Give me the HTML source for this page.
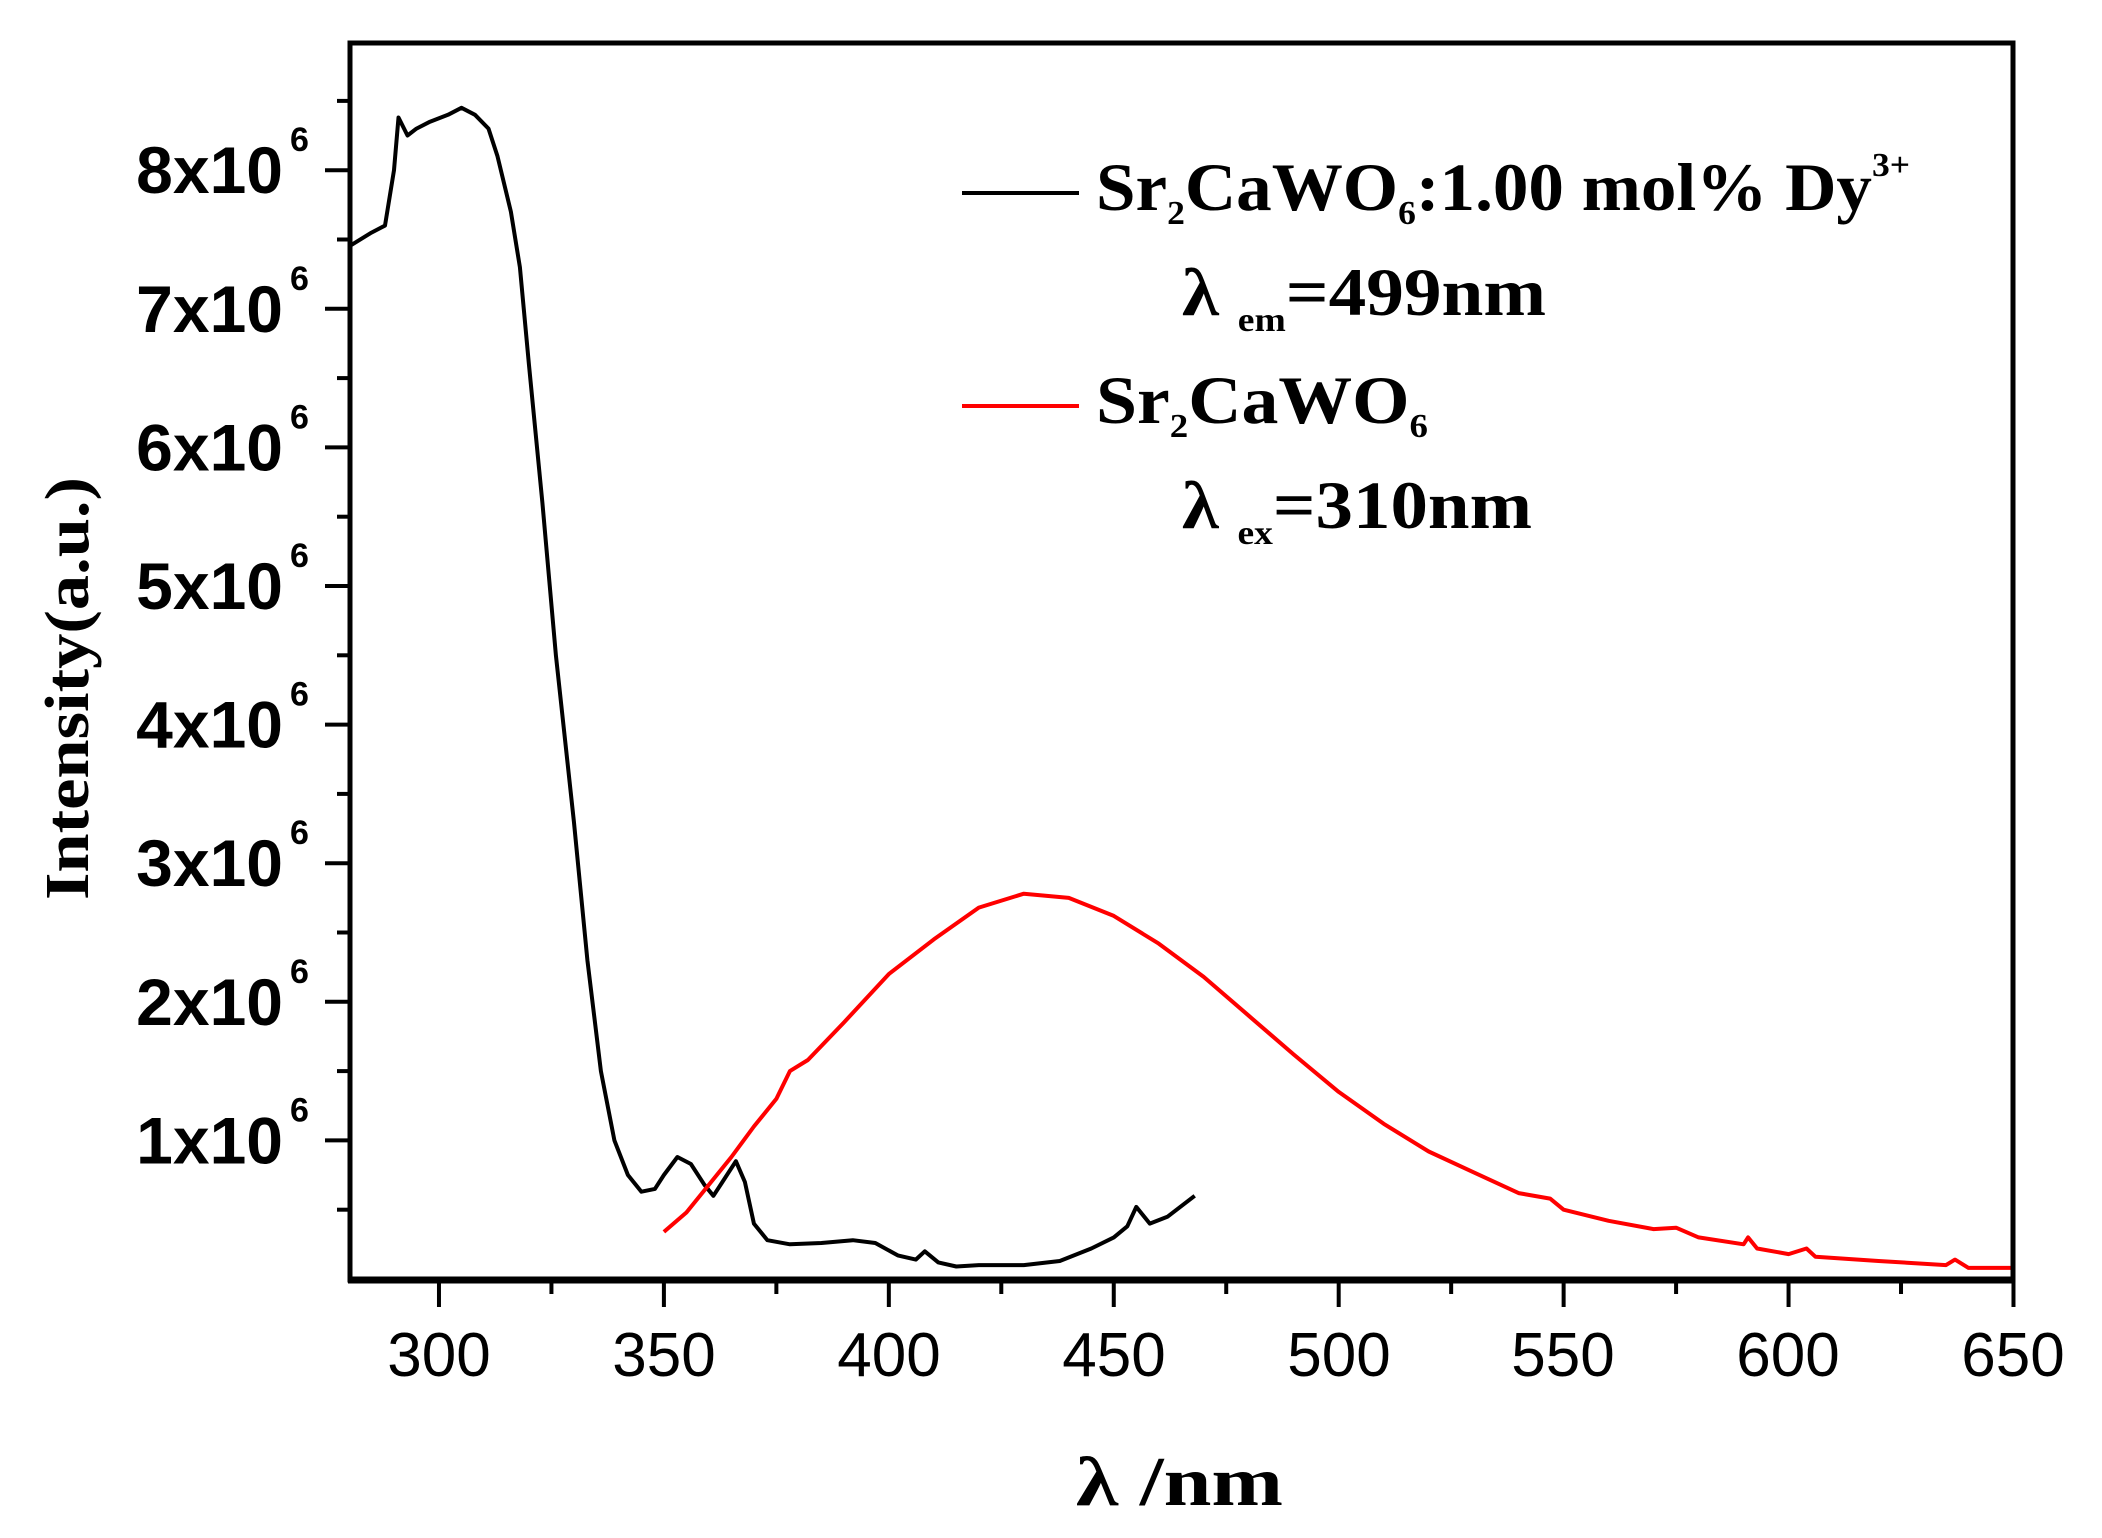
<!DOCTYPE html>
<html><head><meta charset="utf-8"><style>
html,body{margin:0;padding:0;background:#fff;}
svg{display:block;}
</style></head><body>
<svg id="s" width="2102" height="1538" xmlns="http://www.w3.org/2000/svg">
<rect width="2102" height="1538" fill="#fff"/>
<g id="ticks" stroke="#000" stroke-width="4"></g>
<polyline id="blk" fill="none" stroke="#000" stroke-width="4" stroke-linejoin="round"/>
<polyline id="red" fill="none" stroke="#f00" stroke-width="4" stroke-linejoin="round"/>
<rect x="350" y="43" width="1663" height="1237" fill="none" stroke="#000" stroke-width="5"/>
<line x1="348" y1="1280" x2="2015" y2="1280" stroke="#000" stroke-width="7"/>
<g id="ylab" font-family="Liberation Sans, sans-serif" font-weight="bold" fill="#000"></g>
<g font-family="Liberation Sans, sans-serif" font-size="62" fill="#000" text-anchor="middle">
<text x="439" y="1376">300</text><text x="664" y="1376">350</text><text x="889" y="1376">400</text><text x="1114" y="1376">450</text><text x="1339" y="1376">500</text><text x="1563" y="1376">550</text><text x="1788" y="1376">600</text><text x="2013" y="1376">650</text>
</g>
<text x="1076" y="1505" font-family="Liberation Serif, serif" font-weight="bold" font-size="70" textLength="207" lengthAdjust="spacingAndGlyphs">λ /nm</text>
<text transform="translate(88,900) rotate(-90)" font-family="Liberation Serif, serif" font-weight="bold" font-size="62" textLength="423" lengthAdjust="spacingAndGlyphs">Intensity(a.u.)</text>
<g font-family="Liberation Serif, serif" font-weight="bold" fill="#000">
<line x1="962" y1="193" x2="1079" y2="193" stroke="#000" stroke-width="4"/>
<text x="1096" y="210" font-size="68" textLength="814" lengthAdjust="spacingAndGlyphs">Sr<tspan font-size="34" dy="14">2</tspan><tspan dy="-14">CaWO</tspan><tspan font-size="34" dy="14">6</tspan><tspan dy="-14">:1.00 mol% Dy</tspan><tspan font-size="34" dy="-34">3+</tspan></text>
<text x="1182" y="315" font-size="68" textLength="364" lengthAdjust="spacingAndGlyphs">λ <tspan font-size="34" dy="16">em</tspan><tspan dy="-16">=499nm</tspan></text>
<line x1="962" y1="406" x2="1079" y2="406" stroke="#f00" stroke-width="4"/>
<text x="1096" y="423" font-size="68" textLength="332" lengthAdjust="spacingAndGlyphs">Sr<tspan font-size="34" dy="14">2</tspan><tspan dy="-14">CaWO</tspan><tspan font-size="34" dy="14">6</tspan></text>
<text x="1182" y="528" font-size="68" textLength="350" lengthAdjust="spacingAndGlyphs">λ <tspan font-size="34" dy="16">ex</tspan><tspan dy="-16">=310nm</tspan></text>
</g>
</svg>
<script>
var X=function(n){return 349+(n-280)*4.4986;},Y=function(v){return 1279-138.6*v;};
var b=[[280,7.45],[285,7.55],[288,7.6],[290,8.0],[291,8.38],[293,8.25],[295,8.3],[298,8.35],[302,8.4],[305,8.45],[308,8.4],[311,8.3],[313,8.1],[316,7.7],[318,7.3],[320,6.6],[323,5.6],[326,4.5],[330,3.3],[333,2.3],[336,1.5],[339,1.0],[342,0.75],[345,0.63],[348,0.65],[350,0.75],[353,0.88],[356,0.83],[359,0.68],[361,0.6],[363,0.7],[366,0.85],[368,0.7],[370,0.4],[373,0.28],[378,0.25],[385,0.26],[392,0.28],[397,0.26],[402,0.17],[406,0.14],[408,0.2],[411,0.12],[415,0.09],[420,0.1],[430,0.1],[438,0.13],[445,0.22],[450,0.3],[453,0.38],[455,0.52],[458,0.4],[462,0.45],[468,0.6]];
var r=[[350,0.34],[355,0.48],[360,0.68],[365,0.88],[370,1.1],[375,1.3],[378,1.5],[382,1.58],[390,1.85],[400,2.2],[410,2.45],[420,2.68],[430,2.78],[440,2.75],[450,2.62],[460,2.42],[470,2.18],[480,1.9],[490,1.62],[500,1.35],[510,1.12],[520,0.92],[530,0.77],[540,0.62],[547,0.58],[550,0.5],[560,0.42],[570,0.36],[575,0.37],[580,0.3],[590,0.25],[591,0.3],[593,0.22],[600,0.18],[604,0.22],[606,0.16],[620,0.13],[635,0.1],[637,0.14],[640,0.08],[650,0.08]];
function pts(a){return a.map(function(p){return X(p[0]).toFixed(1)+","+Y(p[1]).toFixed(1);}).join(" ");}
document.getElementById("blk").setAttribute("points",pts(b));
document.getElementById("red").setAttribute("points",pts(r));
var t="";
for(var n=300;n<=650;n+=25){var x=X(n);t+='<line x1="'+x+'" y1="1280" x2="'+x+'" y2="'+(n%50==0?1307:1294)+'"/>';}
for(var v=0.5;v<=8.5;v+=0.5){var y=Y(v);t+='<line x1="'+(v%1==0?325:337)+'" y1="'+y+'" x2="350" y2="'+y+'"/>';}
document.getElementById("ticks").innerHTML=t;
var l="";
for(var k=1;k<=8;k++){var y=Y(k);l+='<text x="283" y="'+(y+23)+'" font-size="66" text-anchor="end">'+k+'x10</text><text x="290" y="'+(y-19)+'" font-size="34">6</text>';}
document.getElementById("ylab").innerHTML=l;
</script>
</body></html>
